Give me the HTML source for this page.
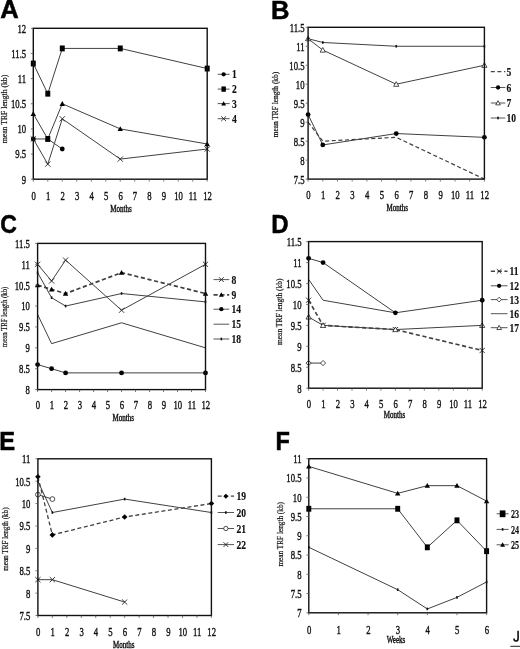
<!DOCTYPE html>
<html><head><meta charset="utf-8"><title>Figure</title>
<style>
html,body{margin:0;padding:0;background:#fff;}
body{width:520px;height:649px;overflow:hidden;font-family:"Liberation Serif", serif;}
svg{display:block;filter:blur(0.35px);}
</style></head><body>
<svg width="520" height="649" viewBox="0 0 520 649">
<text transform="translate(0.30,17.60)" font-family='"Liberation Sans", sans-serif' font-size="25.60" font-weight="bold" text-anchor="start" fill="#000" stroke="#000" stroke-width="0.50">A</text>
<path d="M33.30 138.96 L47.79 138.96 L62.28 149.02" fill="none" stroke="#404040" stroke-width="1.00"/>
<path d="M33.30 63.51 L47.79 93.69 L62.28 48.42 L120.25 48.42 L207.20 68.54" fill="none" stroke="#404040" stroke-width="1.00"/>
<path d="M33.30 113.81 L47.79 138.96 L62.28 103.75 L120.25 128.90 L207.20 143.99" fill="none" stroke="#404040" stroke-width="1.00"/>
<path d="M33.30 138.96 L47.79 164.11 L62.28 118.84 L120.25 159.08 L207.20 149.02" fill="none" stroke="#404040" stroke-width="1.00"/>
<circle cx="33.30" cy="138.96" r="2.40" fill="#000"/>
<rect x="45.32" y="136.02" width="4.94" height="5.88" fill="#000"/>
<circle cx="62.28" cy="149.02" r="2.40" fill="#000"/>
<rect x="30.83" y="60.57" width="4.94" height="5.88" fill="#000"/>
<rect x="45.32" y="90.75" width="4.94" height="5.88" fill="#000"/>
<rect x="59.81" y="45.48" width="4.94" height="5.88" fill="#000"/>
<rect x="117.78" y="45.48" width="4.94" height="5.88" fill="#000"/>
<rect x="204.73" y="65.60" width="4.94" height="5.88" fill="#000"/>
<path d="M33.30 111.11L36.00 115.97L30.60 115.97Z" fill="#000"/>
<path d="M47.79 136.26L50.49 141.12L45.09 141.12Z" fill="#000"/>
<path d="M62.28 101.05L64.98 105.91L59.58 105.91Z" fill="#000"/>
<path d="M120.25 126.20L122.95 131.06L117.55 131.06Z" fill="#000"/>
<path d="M207.20 141.29L209.90 146.15L204.50 146.15Z" fill="#000"/>
<path d="M30.70 136.36L35.90 141.56M30.70 141.56L35.90 136.36" stroke="#222" stroke-width="0.9"/>
<path d="M45.19 161.51L50.39 166.71M45.19 166.71L50.39 161.51" stroke="#222" stroke-width="0.9"/>
<path d="M59.68 116.24L64.88 121.44M59.68 121.44L64.88 116.24" stroke="#222" stroke-width="0.9"/>
<path d="M117.65 156.48L122.85 161.68M117.65 161.68L122.85 156.48" stroke="#222" stroke-width="0.9"/>
<path d="M204.60 146.42L209.80 151.62M204.60 151.62L209.80 146.42" stroke="#222" stroke-width="0.9"/>
<rect x="33.30" y="28.30" width="173.90" height="150.90" fill="none" stroke="#111" stroke-width="1.40"/>
<line x1="30.90" y1="179.20" x2="33.30" y2="179.20" stroke="#555" stroke-width="0.8"/>
<text transform="translate(26.20,183.60) scale(0.700,1)" font-family='"Liberation Serif", serif' font-size="12.40" font-weight="normal" text-anchor="end" fill="#111" stroke="#111" stroke-width="0.40">9</text>
<line x1="30.90" y1="154.05" x2="33.30" y2="154.05" stroke="#555" stroke-width="0.8"/>
<text transform="translate(26.20,158.45) scale(0.700,1)" font-family='"Liberation Serif", serif' font-size="12.40" font-weight="normal" text-anchor="end" fill="#111" stroke="#111" stroke-width="0.40">9.5</text>
<line x1="30.90" y1="128.90" x2="33.30" y2="128.90" stroke="#555" stroke-width="0.8"/>
<text transform="translate(26.20,133.30) scale(0.700,1)" font-family='"Liberation Serif", serif' font-size="12.40" font-weight="normal" text-anchor="end" fill="#111" stroke="#111" stroke-width="0.40">10</text>
<line x1="30.90" y1="103.75" x2="33.30" y2="103.75" stroke="#555" stroke-width="0.8"/>
<text transform="translate(26.20,108.15) scale(0.700,1)" font-family='"Liberation Serif", serif' font-size="12.40" font-weight="normal" text-anchor="end" fill="#111" stroke="#111" stroke-width="0.40">10.5</text>
<line x1="30.90" y1="78.60" x2="33.30" y2="78.60" stroke="#555" stroke-width="0.8"/>
<text transform="translate(26.20,83.00) scale(0.700,1)" font-family='"Liberation Serif", serif' font-size="12.40" font-weight="normal" text-anchor="end" fill="#111" stroke="#111" stroke-width="0.40">11</text>
<line x1="30.90" y1="53.45" x2="33.30" y2="53.45" stroke="#555" stroke-width="0.8"/>
<text transform="translate(26.20,57.85) scale(0.700,1)" font-family='"Liberation Serif", serif' font-size="12.40" font-weight="normal" text-anchor="end" fill="#111" stroke="#111" stroke-width="0.40">11.5</text>
<line x1="30.90" y1="28.30" x2="33.30" y2="28.30" stroke="#555" stroke-width="0.8"/>
<text transform="translate(26.20,32.70) scale(0.700,1)" font-family='"Liberation Serif", serif' font-size="12.40" font-weight="normal" text-anchor="end" fill="#111" stroke="#111" stroke-width="0.40">12</text>
<line x1="33.30" y1="179.20" x2="33.30" y2="181.60" stroke="#555" stroke-width="0.8"/>
<text transform="translate(33.60,199.50) scale(0.700,1)" font-family='"Liberation Serif", serif' font-size="12.40" font-weight="normal" text-anchor="middle" fill="#111" stroke="#111" stroke-width="0.40">0</text>
<line x1="47.79" y1="179.20" x2="47.79" y2="181.60" stroke="#555" stroke-width="0.8"/>
<text transform="translate(48.09,199.50) scale(0.700,1)" font-family='"Liberation Serif", serif' font-size="12.40" font-weight="normal" text-anchor="middle" fill="#111" stroke="#111" stroke-width="0.40">1</text>
<line x1="62.28" y1="179.20" x2="62.28" y2="181.60" stroke="#555" stroke-width="0.8"/>
<text transform="translate(62.58,199.50) scale(0.700,1)" font-family='"Liberation Serif", serif' font-size="12.40" font-weight="normal" text-anchor="middle" fill="#111" stroke="#111" stroke-width="0.40">2</text>
<line x1="76.77" y1="179.20" x2="76.77" y2="181.60" stroke="#555" stroke-width="0.8"/>
<text transform="translate(77.07,199.50) scale(0.700,1)" font-family='"Liberation Serif", serif' font-size="12.40" font-weight="normal" text-anchor="middle" fill="#111" stroke="#111" stroke-width="0.40">3</text>
<line x1="91.27" y1="179.20" x2="91.27" y2="181.60" stroke="#555" stroke-width="0.8"/>
<text transform="translate(91.57,199.50) scale(0.700,1)" font-family='"Liberation Serif", serif' font-size="12.40" font-weight="normal" text-anchor="middle" fill="#111" stroke="#111" stroke-width="0.40">4</text>
<line x1="105.76" y1="179.20" x2="105.76" y2="181.60" stroke="#555" stroke-width="0.8"/>
<text transform="translate(106.06,199.50) scale(0.700,1)" font-family='"Liberation Serif", serif' font-size="12.40" font-weight="normal" text-anchor="middle" fill="#111" stroke="#111" stroke-width="0.40">5</text>
<line x1="120.25" y1="179.20" x2="120.25" y2="181.60" stroke="#555" stroke-width="0.8"/>
<text transform="translate(120.55,199.50) scale(0.700,1)" font-family='"Liberation Serif", serif' font-size="12.40" font-weight="normal" text-anchor="middle" fill="#111" stroke="#111" stroke-width="0.40">6</text>
<line x1="134.74" y1="179.20" x2="134.74" y2="181.60" stroke="#555" stroke-width="0.8"/>
<text transform="translate(135.04,199.50) scale(0.700,1)" font-family='"Liberation Serif", serif' font-size="12.40" font-weight="normal" text-anchor="middle" fill="#111" stroke="#111" stroke-width="0.40">7</text>
<line x1="149.23" y1="179.20" x2="149.23" y2="181.60" stroke="#555" stroke-width="0.8"/>
<text transform="translate(149.53,199.50) scale(0.700,1)" font-family='"Liberation Serif", serif' font-size="12.40" font-weight="normal" text-anchor="middle" fill="#111" stroke="#111" stroke-width="0.40">8</text>
<line x1="163.72" y1="179.20" x2="163.72" y2="181.60" stroke="#555" stroke-width="0.8"/>
<text transform="translate(164.02,199.50) scale(0.700,1)" font-family='"Liberation Serif", serif' font-size="12.40" font-weight="normal" text-anchor="middle" fill="#111" stroke="#111" stroke-width="0.40">9</text>
<line x1="178.22" y1="179.20" x2="178.22" y2="181.60" stroke="#555" stroke-width="0.8"/>
<text transform="translate(178.52,199.50) scale(0.700,1)" font-family='"Liberation Serif", serif' font-size="12.40" font-weight="normal" text-anchor="middle" fill="#111" stroke="#111" stroke-width="0.40">10</text>
<line x1="192.71" y1="179.20" x2="192.71" y2="181.60" stroke="#555" stroke-width="0.8"/>
<text transform="translate(193.01,199.50) scale(0.700,1)" font-family='"Liberation Serif", serif' font-size="12.40" font-weight="normal" text-anchor="middle" fill="#111" stroke="#111" stroke-width="0.40">11</text>
<line x1="207.20" y1="179.20" x2="207.20" y2="181.60" stroke="#555" stroke-width="0.8"/>
<text transform="translate(207.50,199.50) scale(0.700,1)" font-family='"Liberation Serif", serif' font-size="12.40" font-weight="normal" text-anchor="middle" fill="#111" stroke="#111" stroke-width="0.40">12</text>
<text transform="translate(121.00,211.50) scale(0.740,1)" font-family='"Liberation Serif", serif' font-size="9.50" font-weight="normal" text-anchor="middle" fill="#111" stroke="#111" stroke-width="0.40">Months</text>
<text transform="translate(7.30,109.00) rotate(-90)" font-family='"Liberation Serif", serif' font-size="8.60" text-anchor="middle" fill="#111" stroke="#111" stroke-width="0.2" textLength="68.5" lengthAdjust="spacingAndGlyphs">mean TRF length (kb)</text>
<line x1="217.70" y1="74.30" x2="229.60" y2="74.30" stroke="#444" stroke-width="0.90"/>
<circle cx="223.65" cy="74.30" r="2.16" fill="#000"/>
<text transform="translate(231.90,78.40) scale(0.800,1)" font-family='"Liberation Serif", serif' font-size="12.00" font-weight="bold" text-anchor="start" fill="#111" stroke="#111" stroke-width="0.15">1</text>
<line x1="217.70" y1="89.10" x2="229.60" y2="89.10" stroke="#444" stroke-width="0.90"/>
<rect x="221.43" y="86.46" width="4.45" height="5.29" fill="#000"/>
<text transform="translate(231.90,93.20) scale(0.800,1)" font-family='"Liberation Serif", serif' font-size="12.00" font-weight="bold" text-anchor="start" fill="#111" stroke="#111" stroke-width="0.15">2</text>
<line x1="217.70" y1="103.60" x2="229.60" y2="103.60" stroke="#444" stroke-width="0.90"/>
<path d="M223.65 101.17L226.08 105.54L221.22 105.54Z" fill="#000"/>
<text transform="translate(231.90,107.70) scale(0.800,1)" font-family='"Liberation Serif", serif' font-size="12.00" font-weight="bold" text-anchor="start" fill="#111" stroke="#111" stroke-width="0.15">3</text>
<line x1="217.70" y1="118.70" x2="229.60" y2="118.70" stroke="#444" stroke-width="0.90"/>
<path d="M221.31 116.36L225.99 121.04M221.31 121.04L225.99 116.36" stroke="#222" stroke-width="0.9"/>
<text transform="translate(231.90,122.80) scale(0.800,1)" font-family='"Liberation Serif", serif' font-size="12.00" font-weight="bold" text-anchor="start" fill="#111" stroke="#111" stroke-width="0.15">4</text>
<text transform="translate(271.10,18.50)" font-family='"Liberation Sans", sans-serif' font-size="25.60" font-weight="bold" text-anchor="start" fill="#000" stroke="#000" stroke-width="0.50">B</text>
<path d="M308.10 122.17 L322.79 141.15 L396.25 137.36 L484.40 179.10" fill="none" stroke="#404040" stroke-width="1.20" stroke-dasharray="4,2.6"/>
<path d="M308.10 114.59 L322.79 144.94 L396.25 133.56 L484.40 137.36" fill="none" stroke="#404040" stroke-width="1.00"/>
<path d="M308.10 38.69 L322.79 50.07 L396.25 84.23 L484.40 65.25" fill="none" stroke="#404040" stroke-width="1.00"/>
<path d="M308.10 38.69 L322.79 42.48 L396.25 46.28 L484.40 46.28" fill="none" stroke="#404040" stroke-width="1.00"/>
<circle cx="308.10" cy="114.59" r="2.40" fill="#000"/>
<circle cx="322.79" cy="144.94" r="2.40" fill="#000"/>
<circle cx="396.25" cy="133.56" r="2.40" fill="#000"/>
<circle cx="484.40" cy="137.36" r="2.40" fill="#000"/>
<path d="M308.10 36.09L310.70 40.77L305.50 40.77Z" fill="#fff" stroke="#222" stroke-width="0.8"/>
<path d="M322.79 47.47L325.39 52.15L320.19 52.15Z" fill="#fff" stroke="#222" stroke-width="0.8"/>
<path d="M396.25 81.63L398.85 86.31L393.65 86.31Z" fill="#fff" stroke="#222" stroke-width="0.8"/>
<path d="M484.40 62.65L487.00 67.33L481.80 67.33Z" fill="#fff" stroke="#222" stroke-width="0.8"/>
<rect x="307.30" y="37.39" width="1.6" height="2.6" fill="#111"/>
<rect x="321.99" y="41.18" width="1.6" height="2.6" fill="#111"/>
<rect x="395.45" y="44.98" width="1.6" height="2.6" fill="#111"/>
<rect x="483.60" y="44.98" width="1.6" height="2.6" fill="#111"/>
<rect x="308.10" y="27.30" width="176.30" height="151.80" fill="none" stroke="#111" stroke-width="1.40"/>
<line x1="305.70" y1="179.10" x2="308.10" y2="179.10" stroke="#555" stroke-width="0.8"/>
<text transform="translate(304.50,183.50) scale(0.700,1)" font-family='"Liberation Serif", serif' font-size="12.40" font-weight="normal" text-anchor="end" fill="#111" stroke="#111" stroke-width="0.40">7.5</text>
<line x1="305.70" y1="160.12" x2="308.10" y2="160.12" stroke="#555" stroke-width="0.8"/>
<text transform="translate(304.50,164.53) scale(0.700,1)" font-family='"Liberation Serif", serif' font-size="12.40" font-weight="normal" text-anchor="end" fill="#111" stroke="#111" stroke-width="0.40">8</text>
<line x1="305.70" y1="141.15" x2="308.10" y2="141.15" stroke="#555" stroke-width="0.8"/>
<text transform="translate(304.50,145.55) scale(0.700,1)" font-family='"Liberation Serif", serif' font-size="12.40" font-weight="normal" text-anchor="end" fill="#111" stroke="#111" stroke-width="0.40">8.5</text>
<line x1="305.70" y1="122.17" x2="308.10" y2="122.17" stroke="#555" stroke-width="0.8"/>
<text transform="translate(304.50,126.58) scale(0.700,1)" font-family='"Liberation Serif", serif' font-size="12.40" font-weight="normal" text-anchor="end" fill="#111" stroke="#111" stroke-width="0.40">9</text>
<line x1="305.70" y1="103.20" x2="308.10" y2="103.20" stroke="#555" stroke-width="0.8"/>
<text transform="translate(304.50,107.60) scale(0.700,1)" font-family='"Liberation Serif", serif' font-size="12.40" font-weight="normal" text-anchor="end" fill="#111" stroke="#111" stroke-width="0.40">9.5</text>
<line x1="305.70" y1="84.23" x2="308.10" y2="84.23" stroke="#555" stroke-width="0.8"/>
<text transform="translate(304.50,88.63) scale(0.700,1)" font-family='"Liberation Serif", serif' font-size="12.40" font-weight="normal" text-anchor="end" fill="#111" stroke="#111" stroke-width="0.40">10</text>
<line x1="305.70" y1="65.25" x2="308.10" y2="65.25" stroke="#555" stroke-width="0.8"/>
<text transform="translate(304.50,69.65) scale(0.700,1)" font-family='"Liberation Serif", serif' font-size="12.40" font-weight="normal" text-anchor="end" fill="#111" stroke="#111" stroke-width="0.40">10.5</text>
<line x1="305.70" y1="46.28" x2="308.10" y2="46.28" stroke="#555" stroke-width="0.8"/>
<text transform="translate(304.50,50.68) scale(0.700,1)" font-family='"Liberation Serif", serif' font-size="12.40" font-weight="normal" text-anchor="end" fill="#111" stroke="#111" stroke-width="0.40">11</text>
<line x1="305.70" y1="27.30" x2="308.10" y2="27.30" stroke="#555" stroke-width="0.8"/>
<text transform="translate(304.50,31.70) scale(0.700,1)" font-family='"Liberation Serif", serif' font-size="12.40" font-weight="normal" text-anchor="end" fill="#111" stroke="#111" stroke-width="0.40">11.5</text>
<line x1="308.10" y1="179.10" x2="308.10" y2="181.50" stroke="#555" stroke-width="0.8"/>
<text transform="translate(308.40,199.00) scale(0.700,1)" font-family='"Liberation Serif", serif' font-size="12.40" font-weight="normal" text-anchor="middle" fill="#111" stroke="#111" stroke-width="0.40">0</text>
<line x1="322.79" y1="179.10" x2="322.79" y2="181.50" stroke="#555" stroke-width="0.8"/>
<text transform="translate(323.09,199.00) scale(0.700,1)" font-family='"Liberation Serif", serif' font-size="12.40" font-weight="normal" text-anchor="middle" fill="#111" stroke="#111" stroke-width="0.40">1</text>
<line x1="337.48" y1="179.10" x2="337.48" y2="181.50" stroke="#555" stroke-width="0.8"/>
<text transform="translate(337.78,199.00) scale(0.700,1)" font-family='"Liberation Serif", serif' font-size="12.40" font-weight="normal" text-anchor="middle" fill="#111" stroke="#111" stroke-width="0.40">2</text>
<line x1="352.18" y1="179.10" x2="352.18" y2="181.50" stroke="#555" stroke-width="0.8"/>
<text transform="translate(352.48,199.00) scale(0.700,1)" font-family='"Liberation Serif", serif' font-size="12.40" font-weight="normal" text-anchor="middle" fill="#111" stroke="#111" stroke-width="0.40">3</text>
<line x1="366.87" y1="179.10" x2="366.87" y2="181.50" stroke="#555" stroke-width="0.8"/>
<text transform="translate(367.17,199.00) scale(0.700,1)" font-family='"Liberation Serif", serif' font-size="12.40" font-weight="normal" text-anchor="middle" fill="#111" stroke="#111" stroke-width="0.40">4</text>
<line x1="381.56" y1="179.10" x2="381.56" y2="181.50" stroke="#555" stroke-width="0.8"/>
<text transform="translate(381.86,199.00) scale(0.700,1)" font-family='"Liberation Serif", serif' font-size="12.40" font-weight="normal" text-anchor="middle" fill="#111" stroke="#111" stroke-width="0.40">5</text>
<line x1="396.25" y1="179.10" x2="396.25" y2="181.50" stroke="#555" stroke-width="0.8"/>
<text transform="translate(396.55,199.00) scale(0.700,1)" font-family='"Liberation Serif", serif' font-size="12.40" font-weight="normal" text-anchor="middle" fill="#111" stroke="#111" stroke-width="0.40">6</text>
<line x1="410.94" y1="179.10" x2="410.94" y2="181.50" stroke="#555" stroke-width="0.8"/>
<text transform="translate(411.24,199.00) scale(0.700,1)" font-family='"Liberation Serif", serif' font-size="12.40" font-weight="normal" text-anchor="middle" fill="#111" stroke="#111" stroke-width="0.40">7</text>
<line x1="425.63" y1="179.10" x2="425.63" y2="181.50" stroke="#555" stroke-width="0.8"/>
<text transform="translate(425.93,199.00) scale(0.700,1)" font-family='"Liberation Serif", serif' font-size="12.40" font-weight="normal" text-anchor="middle" fill="#111" stroke="#111" stroke-width="0.40">8</text>
<line x1="440.32" y1="179.10" x2="440.32" y2="181.50" stroke="#555" stroke-width="0.8"/>
<text transform="translate(440.62,199.00) scale(0.700,1)" font-family='"Liberation Serif", serif' font-size="12.40" font-weight="normal" text-anchor="middle" fill="#111" stroke="#111" stroke-width="0.40">9</text>
<line x1="455.02" y1="179.10" x2="455.02" y2="181.50" stroke="#555" stroke-width="0.8"/>
<text transform="translate(455.32,199.00) scale(0.700,1)" font-family='"Liberation Serif", serif' font-size="12.40" font-weight="normal" text-anchor="middle" fill="#111" stroke="#111" stroke-width="0.40">10</text>
<line x1="469.71" y1="179.10" x2="469.71" y2="181.50" stroke="#555" stroke-width="0.8"/>
<text transform="translate(470.01,199.00) scale(0.700,1)" font-family='"Liberation Serif", serif' font-size="12.40" font-weight="normal" text-anchor="middle" fill="#111" stroke="#111" stroke-width="0.40">11</text>
<line x1="484.40" y1="179.10" x2="484.40" y2="181.50" stroke="#555" stroke-width="0.8"/>
<text transform="translate(484.70,199.00) scale(0.700,1)" font-family='"Liberation Serif", serif' font-size="12.40" font-weight="normal" text-anchor="middle" fill="#111" stroke="#111" stroke-width="0.40">12</text>
<text transform="translate(397.30,211.20) scale(0.740,1)" font-family='"Liberation Serif", serif' font-size="9.50" font-weight="normal" text-anchor="middle" fill="#111" stroke="#111" stroke-width="0.40">Months</text>
<text transform="translate(278.00,104.60) rotate(-90)" font-family='"Liberation Serif", serif' font-size="8.60" text-anchor="middle" fill="#111" stroke="#111" stroke-width="0.2" textLength="65.5" lengthAdjust="spacingAndGlyphs">mean TRF length (kb)</text>
<line x1="490.80" y1="71.70" x2="505.30" y2="71.70" stroke="#444" stroke-width="1.20" stroke-dasharray="4,2.6"/>
<text transform="translate(506.40,75.80) scale(0.800,1)" font-family='"Liberation Serif", serif' font-size="12.00" font-weight="bold" text-anchor="start" fill="#111" stroke="#111" stroke-width="0.15">5</text>
<line x1="490.80" y1="87.50" x2="505.30" y2="87.50" stroke="#444" stroke-width="0.90"/>
<circle cx="498.05" cy="87.50" r="2.16" fill="#000"/>
<text transform="translate(506.40,91.60) scale(0.800,1)" font-family='"Liberation Serif", serif' font-size="12.00" font-weight="bold" text-anchor="start" fill="#111" stroke="#111" stroke-width="0.15">6</text>
<line x1="490.80" y1="103.00" x2="505.30" y2="103.00" stroke="#444" stroke-width="0.90"/>
<path d="M498.05 100.66L500.39 104.87L495.71 104.87Z" fill="#fff" stroke="#222" stroke-width="0.8"/>
<text transform="translate(506.40,107.10) scale(0.800,1)" font-family='"Liberation Serif", serif' font-size="12.00" font-weight="bold" text-anchor="start" fill="#111" stroke="#111" stroke-width="0.15">7</text>
<line x1="490.80" y1="118.00" x2="505.30" y2="118.00" stroke="#444" stroke-width="0.90"/>
<rect x="497.25" y="116.70" width="1.6" height="2.6" fill="#111"/>
<text transform="translate(506.40,122.10) scale(0.800,1)" font-family='"Liberation Serif", serif' font-size="12.00" font-weight="bold" text-anchor="start" fill="#111" stroke="#111" stroke-width="0.15">10</text>
<text transform="translate(0.20,232.90) scale(0.900,1)" font-family='"Liberation Sans", sans-serif' font-size="25.60" font-weight="bold" text-anchor="start" fill="#000" stroke="#000" stroke-width="0.50">C</text>
<path d="M37.60 264.29 L51.59 280.99 L65.58 260.11 L121.55 310.23 L205.50 264.29" fill="none" stroke="#404040" stroke-width="1.00"/>
<path d="M37.60 285.17 L51.59 289.35 L65.58 293.53 L121.55 272.64 L205.50 293.53" fill="none" stroke="#404040" stroke-width="1.70" stroke-dasharray="4.2,2.6"/>
<path d="M37.60 364.54 L51.59 368.71 L65.58 372.89 L121.55 372.89 L205.50 372.89" fill="none" stroke="#404040" stroke-width="1.00"/>
<path d="M37.60 314.41 L51.59 343.65 L121.55 322.77 L205.50 347.83" fill="none" stroke="#404040" stroke-width="1.00"/>
<path d="M37.60 272.64 L51.59 297.70 L65.58 306.06 L121.55 293.53 L205.50 301.88" fill="none" stroke="#404040" stroke-width="1.00"/>
<path d="M35.00 261.69L40.20 266.89M35.00 266.89L40.20 261.69" stroke="#222" stroke-width="0.9"/>
<path d="M48.99 278.39L54.19 283.59M48.99 283.59L54.19 278.39" stroke="#222" stroke-width="0.9"/>
<path d="M62.98 257.51L68.18 262.71M62.98 262.71L68.18 257.51" stroke="#222" stroke-width="0.9"/>
<path d="M118.95 307.63L124.15 312.83M118.95 312.83L124.15 307.63" stroke="#222" stroke-width="0.9"/>
<path d="M202.90 261.69L208.10 266.89M202.90 266.89L208.10 261.69" stroke="#222" stroke-width="0.9"/>
<path d="M37.60 282.47L40.30 287.33L34.90 287.33Z" fill="#000"/>
<path d="M51.59 286.65L54.29 291.51L48.89 291.51Z" fill="#000"/>
<path d="M65.58 290.83L68.28 295.69L62.88 295.69Z" fill="#000"/>
<path d="M121.55 269.94L124.25 274.80L118.85 274.80Z" fill="#000"/>
<path d="M205.50 290.83L208.20 295.69L202.80 295.69Z" fill="#000"/>
<circle cx="37.60" cy="364.54" r="2.40" fill="#000"/>
<circle cx="51.59" cy="368.71" r="2.40" fill="#000"/>
<circle cx="65.58" cy="372.89" r="2.40" fill="#000"/>
<circle cx="121.55" cy="372.89" r="2.40" fill="#000"/>
<circle cx="205.50" cy="372.89" r="2.40" fill="#000"/>
<rect x="36.80" y="271.34" width="1.6" height="2.6" fill="#111"/>
<rect x="50.79" y="296.40" width="1.6" height="2.6" fill="#111"/>
<rect x="64.78" y="304.76" width="1.6" height="2.6" fill="#111"/>
<rect x="120.75" y="292.23" width="1.6" height="2.6" fill="#111"/>
<rect x="204.70" y="300.58" width="1.6" height="2.6" fill="#111"/>
<rect x="37.60" y="243.40" width="167.90" height="146.20" fill="none" stroke="#111" stroke-width="1.40"/>
<line x1="35.20" y1="389.60" x2="37.60" y2="389.60" stroke="#555" stroke-width="0.8"/>
<text transform="translate(29.90,394.00) scale(0.700,1)" font-family='"Liberation Serif", serif' font-size="12.40" font-weight="normal" text-anchor="end" fill="#111" stroke="#111" stroke-width="0.40">8</text>
<line x1="35.20" y1="368.71" x2="37.60" y2="368.71" stroke="#555" stroke-width="0.8"/>
<text transform="translate(29.90,373.11) scale(0.700,1)" font-family='"Liberation Serif", serif' font-size="12.40" font-weight="normal" text-anchor="end" fill="#111" stroke="#111" stroke-width="0.40">8.5</text>
<line x1="35.20" y1="347.83" x2="37.60" y2="347.83" stroke="#555" stroke-width="0.8"/>
<text transform="translate(29.90,352.23) scale(0.700,1)" font-family='"Liberation Serif", serif' font-size="12.40" font-weight="normal" text-anchor="end" fill="#111" stroke="#111" stroke-width="0.40">9</text>
<line x1="35.20" y1="326.94" x2="37.60" y2="326.94" stroke="#555" stroke-width="0.8"/>
<text transform="translate(29.90,331.34) scale(0.700,1)" font-family='"Liberation Serif", serif' font-size="12.40" font-weight="normal" text-anchor="end" fill="#111" stroke="#111" stroke-width="0.40">9.5</text>
<line x1="35.20" y1="306.06" x2="37.60" y2="306.06" stroke="#555" stroke-width="0.8"/>
<text transform="translate(29.90,310.46) scale(0.700,1)" font-family='"Liberation Serif", serif' font-size="12.40" font-weight="normal" text-anchor="end" fill="#111" stroke="#111" stroke-width="0.40">10</text>
<line x1="35.20" y1="285.17" x2="37.60" y2="285.17" stroke="#555" stroke-width="0.8"/>
<text transform="translate(29.90,289.57) scale(0.700,1)" font-family='"Liberation Serif", serif' font-size="12.40" font-weight="normal" text-anchor="end" fill="#111" stroke="#111" stroke-width="0.40">10.5</text>
<line x1="35.20" y1="264.29" x2="37.60" y2="264.29" stroke="#555" stroke-width="0.8"/>
<text transform="translate(29.90,268.69) scale(0.700,1)" font-family='"Liberation Serif", serif' font-size="12.40" font-weight="normal" text-anchor="end" fill="#111" stroke="#111" stroke-width="0.40">11</text>
<line x1="35.20" y1="243.40" x2="37.60" y2="243.40" stroke="#555" stroke-width="0.8"/>
<text transform="translate(29.90,247.80) scale(0.700,1)" font-family='"Liberation Serif", serif' font-size="12.40" font-weight="normal" text-anchor="end" fill="#111" stroke="#111" stroke-width="0.40">11.5</text>
<line x1="37.60" y1="389.60" x2="37.60" y2="392.00" stroke="#555" stroke-width="0.8"/>
<text transform="translate(37.90,408.90) scale(0.700,1)" font-family='"Liberation Serif", serif' font-size="12.40" font-weight="normal" text-anchor="middle" fill="#111" stroke="#111" stroke-width="0.40">0</text>
<line x1="51.59" y1="389.60" x2="51.59" y2="392.00" stroke="#555" stroke-width="0.8"/>
<text transform="translate(51.89,408.90) scale(0.700,1)" font-family='"Liberation Serif", serif' font-size="12.40" font-weight="normal" text-anchor="middle" fill="#111" stroke="#111" stroke-width="0.40">1</text>
<line x1="65.58" y1="389.60" x2="65.58" y2="392.00" stroke="#555" stroke-width="0.8"/>
<text transform="translate(65.88,408.90) scale(0.700,1)" font-family='"Liberation Serif", serif' font-size="12.40" font-weight="normal" text-anchor="middle" fill="#111" stroke="#111" stroke-width="0.40">2</text>
<line x1="79.58" y1="389.60" x2="79.58" y2="392.00" stroke="#555" stroke-width="0.8"/>
<text transform="translate(79.88,408.90) scale(0.700,1)" font-family='"Liberation Serif", serif' font-size="12.40" font-weight="normal" text-anchor="middle" fill="#111" stroke="#111" stroke-width="0.40">3</text>
<line x1="93.57" y1="389.60" x2="93.57" y2="392.00" stroke="#555" stroke-width="0.8"/>
<text transform="translate(93.87,408.90) scale(0.700,1)" font-family='"Liberation Serif", serif' font-size="12.40" font-weight="normal" text-anchor="middle" fill="#111" stroke="#111" stroke-width="0.40">4</text>
<line x1="107.56" y1="389.60" x2="107.56" y2="392.00" stroke="#555" stroke-width="0.8"/>
<text transform="translate(107.86,408.90) scale(0.700,1)" font-family='"Liberation Serif", serif' font-size="12.40" font-weight="normal" text-anchor="middle" fill="#111" stroke="#111" stroke-width="0.40">5</text>
<line x1="121.55" y1="389.60" x2="121.55" y2="392.00" stroke="#555" stroke-width="0.8"/>
<text transform="translate(121.85,408.90) scale(0.700,1)" font-family='"Liberation Serif", serif' font-size="12.40" font-weight="normal" text-anchor="middle" fill="#111" stroke="#111" stroke-width="0.40">6</text>
<line x1="135.54" y1="389.60" x2="135.54" y2="392.00" stroke="#555" stroke-width="0.8"/>
<text transform="translate(135.84,408.90) scale(0.700,1)" font-family='"Liberation Serif", serif' font-size="12.40" font-weight="normal" text-anchor="middle" fill="#111" stroke="#111" stroke-width="0.40">7</text>
<line x1="149.53" y1="389.60" x2="149.53" y2="392.00" stroke="#555" stroke-width="0.8"/>
<text transform="translate(149.83,408.90) scale(0.700,1)" font-family='"Liberation Serif", serif' font-size="12.40" font-weight="normal" text-anchor="middle" fill="#111" stroke="#111" stroke-width="0.40">8</text>
<line x1="163.53" y1="389.60" x2="163.53" y2="392.00" stroke="#555" stroke-width="0.8"/>
<text transform="translate(163.83,408.90) scale(0.700,1)" font-family='"Liberation Serif", serif' font-size="12.40" font-weight="normal" text-anchor="middle" fill="#111" stroke="#111" stroke-width="0.40">9</text>
<line x1="177.52" y1="389.60" x2="177.52" y2="392.00" stroke="#555" stroke-width="0.8"/>
<text transform="translate(177.82,408.90) scale(0.700,1)" font-family='"Liberation Serif", serif' font-size="12.40" font-weight="normal" text-anchor="middle" fill="#111" stroke="#111" stroke-width="0.40">10</text>
<line x1="191.51" y1="389.60" x2="191.51" y2="392.00" stroke="#555" stroke-width="0.8"/>
<text transform="translate(191.81,408.90) scale(0.700,1)" font-family='"Liberation Serif", serif' font-size="12.40" font-weight="normal" text-anchor="middle" fill="#111" stroke="#111" stroke-width="0.40">11</text>
<line x1="205.50" y1="389.60" x2="205.50" y2="392.00" stroke="#555" stroke-width="0.8"/>
<text transform="translate(205.80,408.90) scale(0.700,1)" font-family='"Liberation Serif", serif' font-size="12.40" font-weight="normal" text-anchor="middle" fill="#111" stroke="#111" stroke-width="0.40">12</text>
<text transform="translate(123.30,420.60) scale(0.740,1)" font-family='"Liberation Serif", serif' font-size="9.50" font-weight="normal" text-anchor="middle" fill="#111" stroke="#111" stroke-width="0.40">Months</text>
<text transform="translate(7.30,316.90) rotate(-90)" font-family='"Liberation Serif", serif' font-size="8.60" text-anchor="middle" fill="#111" stroke="#111" stroke-width="0.2" textLength="60.5" lengthAdjust="spacingAndGlyphs">mean TRF length (kb)</text>
<line x1="213.50" y1="279.60" x2="229.20" y2="279.60" stroke="#444" stroke-width="0.90"/>
<path d="M219.01 277.26L223.69 281.94M219.01 281.94L223.69 277.26" stroke="#222" stroke-width="0.9"/>
<text transform="translate(231.50,283.70) scale(0.800,1)" font-family='"Liberation Serif", serif' font-size="12.00" font-weight="bold" text-anchor="start" fill="#111" stroke="#111" stroke-width="0.15">8</text>
<line x1="213.50" y1="294.80" x2="229.20" y2="294.80" stroke="#444" stroke-width="1.70" stroke-dasharray="4.2,2.6"/>
<path d="M221.35 292.37L223.78 296.74L218.92 296.74Z" fill="#000"/>
<text transform="translate(231.50,298.90) scale(0.800,1)" font-family='"Liberation Serif", serif' font-size="12.00" font-weight="bold" text-anchor="start" fill="#111" stroke="#111" stroke-width="0.15">9</text>
<line x1="213.50" y1="309.20" x2="229.20" y2="309.20" stroke="#444" stroke-width="0.90"/>
<circle cx="221.35" cy="309.20" r="2.16" fill="#000"/>
<text transform="translate(231.50,313.30) scale(0.800,1)" font-family='"Liberation Serif", serif' font-size="12.00" font-weight="bold" text-anchor="start" fill="#111" stroke="#111" stroke-width="0.15">14</text>
<line x1="213.50" y1="324.20" x2="229.20" y2="324.20" stroke="#444" stroke-width="0.90"/>
<text transform="translate(231.50,328.30) scale(0.800,1)" font-family='"Liberation Serif", serif' font-size="12.00" font-weight="bold" text-anchor="start" fill="#111" stroke="#111" stroke-width="0.15">15</text>
<line x1="213.50" y1="339.00" x2="229.20" y2="339.00" stroke="#444" stroke-width="0.90"/>
<rect x="220.55" y="337.70" width="1.6" height="2.6" fill="#111"/>
<text transform="translate(231.50,343.10) scale(0.800,1)" font-family='"Liberation Serif", serif' font-size="12.00" font-weight="bold" text-anchor="start" fill="#111" stroke="#111" stroke-width="0.15">18</text>
<text transform="translate(271.30,233.00) scale(0.940,1)" font-family='"Liberation Sans", sans-serif' font-size="25.60" font-weight="bold" text-anchor="start" fill="#000" stroke="#000" stroke-width="0.50">D</text>
<path d="M308.60 300.24 L323.07 325.37 L395.40 329.56 L482.20 350.50" fill="none" stroke="#404040" stroke-width="1.60" stroke-dasharray="4.2,2.6"/>
<path d="M308.60 258.35 L323.07 262.54 L395.40 312.81 L482.20 300.24" fill="none" stroke="#404040" stroke-width="1.00"/>
<path d="M308.60 363.07 L323.07 363.07" fill="none" stroke="#404040" stroke-width="1.00"/>
<path d="M308.60 279.30 L323.07 300.24 L395.40 312.81" fill="none" stroke="#404040" stroke-width="1.00"/>
<path d="M308.60 316.99 L323.07 325.37 L395.40 329.56 L482.20 325.37" fill="none" stroke="#404040" stroke-width="1.00"/>
<path d="M306.00 297.64L311.20 302.84M306.00 302.84L311.20 297.64" stroke="#222" stroke-width="0.9"/>
<path d="M320.47 322.77L325.67 327.97M320.47 327.97L325.67 322.77" stroke="#222" stroke-width="0.9"/>
<path d="M392.80 326.96L398.00 332.16M392.80 332.16L398.00 326.96" stroke="#222" stroke-width="0.9"/>
<path d="M479.60 347.90L484.80 353.10M479.60 353.10L484.80 347.90" stroke="#222" stroke-width="0.9"/>
<circle cx="308.60" cy="258.35" r="2.40" fill="#000"/>
<circle cx="323.07" cy="262.54" r="2.40" fill="#000"/>
<circle cx="395.40" cy="312.81" r="2.40" fill="#000"/>
<circle cx="482.20" cy="300.24" r="2.40" fill="#000"/>
<path d="M308.60 360.47L311.20 363.07L308.60 365.67L306.00 363.07Z" fill="#fff" stroke="#222" stroke-width="0.8"/>
<path d="M323.07 360.47L325.67 363.07L323.07 365.67L320.47 363.07Z" fill="#fff" stroke="#222" stroke-width="0.8"/>
<path d="M308.60 314.39L311.20 319.07L306.00 319.07Z" fill="#fff" stroke="#222" stroke-width="0.8"/>
<path d="M323.07 322.77L325.67 327.45L320.47 327.45Z" fill="#fff" stroke="#222" stroke-width="0.8"/>
<path d="M395.40 326.96L398.00 331.64L392.80 331.64Z" fill="#fff" stroke="#222" stroke-width="0.8"/>
<path d="M482.20 322.77L484.80 327.45L479.60 327.45Z" fill="#fff" stroke="#222" stroke-width="0.8"/>
<rect x="308.60" y="241.60" width="173.60" height="146.60" fill="none" stroke="#111" stroke-width="1.40"/>
<line x1="306.20" y1="388.20" x2="308.60" y2="388.20" stroke="#555" stroke-width="0.8"/>
<text transform="translate(301.50,392.60) scale(0.700,1)" font-family='"Liberation Serif", serif' font-size="12.40" font-weight="normal" text-anchor="end" fill="#111" stroke="#111" stroke-width="0.40">8</text>
<line x1="306.20" y1="367.26" x2="308.60" y2="367.26" stroke="#555" stroke-width="0.8"/>
<text transform="translate(301.50,371.66) scale(0.700,1)" font-family='"Liberation Serif", serif' font-size="12.40" font-weight="normal" text-anchor="end" fill="#111" stroke="#111" stroke-width="0.40">8.5</text>
<line x1="306.20" y1="346.31" x2="308.60" y2="346.31" stroke="#555" stroke-width="0.8"/>
<text transform="translate(301.50,350.71) scale(0.700,1)" font-family='"Liberation Serif", serif' font-size="12.40" font-weight="normal" text-anchor="end" fill="#111" stroke="#111" stroke-width="0.40">9</text>
<line x1="306.20" y1="325.37" x2="308.60" y2="325.37" stroke="#555" stroke-width="0.8"/>
<text transform="translate(301.50,329.77) scale(0.700,1)" font-family='"Liberation Serif", serif' font-size="12.40" font-weight="normal" text-anchor="end" fill="#111" stroke="#111" stroke-width="0.40">9.5</text>
<line x1="306.20" y1="304.43" x2="308.60" y2="304.43" stroke="#555" stroke-width="0.8"/>
<text transform="translate(301.50,308.83) scale(0.700,1)" font-family='"Liberation Serif", serif' font-size="12.40" font-weight="normal" text-anchor="end" fill="#111" stroke="#111" stroke-width="0.40">10</text>
<line x1="306.20" y1="283.49" x2="308.60" y2="283.49" stroke="#555" stroke-width="0.8"/>
<text transform="translate(301.50,287.89) scale(0.700,1)" font-family='"Liberation Serif", serif' font-size="12.40" font-weight="normal" text-anchor="end" fill="#111" stroke="#111" stroke-width="0.40">10.5</text>
<line x1="306.20" y1="262.54" x2="308.60" y2="262.54" stroke="#555" stroke-width="0.8"/>
<text transform="translate(301.50,266.94) scale(0.700,1)" font-family='"Liberation Serif", serif' font-size="12.40" font-weight="normal" text-anchor="end" fill="#111" stroke="#111" stroke-width="0.40">11</text>
<line x1="306.20" y1="241.60" x2="308.60" y2="241.60" stroke="#555" stroke-width="0.8"/>
<text transform="translate(301.50,246.00) scale(0.700,1)" font-family='"Liberation Serif", serif' font-size="12.40" font-weight="normal" text-anchor="end" fill="#111" stroke="#111" stroke-width="0.40">11.5</text>
<line x1="308.60" y1="388.20" x2="308.60" y2="390.60" stroke="#555" stroke-width="0.8"/>
<text transform="translate(308.90,407.60) scale(0.700,1)" font-family='"Liberation Serif", serif' font-size="12.40" font-weight="normal" text-anchor="middle" fill="#111" stroke="#111" stroke-width="0.40">0</text>
<line x1="323.07" y1="388.20" x2="323.07" y2="390.60" stroke="#555" stroke-width="0.8"/>
<text transform="translate(323.37,407.60) scale(0.700,1)" font-family='"Liberation Serif", serif' font-size="12.40" font-weight="normal" text-anchor="middle" fill="#111" stroke="#111" stroke-width="0.40">1</text>
<line x1="337.53" y1="388.20" x2="337.53" y2="390.60" stroke="#555" stroke-width="0.8"/>
<text transform="translate(337.83,407.60) scale(0.700,1)" font-family='"Liberation Serif", serif' font-size="12.40" font-weight="normal" text-anchor="middle" fill="#111" stroke="#111" stroke-width="0.40">2</text>
<line x1="352.00" y1="388.20" x2="352.00" y2="390.60" stroke="#555" stroke-width="0.8"/>
<text transform="translate(352.30,407.60) scale(0.700,1)" font-family='"Liberation Serif", serif' font-size="12.40" font-weight="normal" text-anchor="middle" fill="#111" stroke="#111" stroke-width="0.40">3</text>
<line x1="366.47" y1="388.20" x2="366.47" y2="390.60" stroke="#555" stroke-width="0.8"/>
<text transform="translate(366.77,407.60) scale(0.700,1)" font-family='"Liberation Serif", serif' font-size="12.40" font-weight="normal" text-anchor="middle" fill="#111" stroke="#111" stroke-width="0.40">4</text>
<line x1="380.93" y1="388.20" x2="380.93" y2="390.60" stroke="#555" stroke-width="0.8"/>
<text transform="translate(381.23,407.60) scale(0.700,1)" font-family='"Liberation Serif", serif' font-size="12.40" font-weight="normal" text-anchor="middle" fill="#111" stroke="#111" stroke-width="0.40">5</text>
<line x1="395.40" y1="388.20" x2="395.40" y2="390.60" stroke="#555" stroke-width="0.8"/>
<text transform="translate(395.70,407.60) scale(0.700,1)" font-family='"Liberation Serif", serif' font-size="12.40" font-weight="normal" text-anchor="middle" fill="#111" stroke="#111" stroke-width="0.40">6</text>
<line x1="409.87" y1="388.20" x2="409.87" y2="390.60" stroke="#555" stroke-width="0.8"/>
<text transform="translate(410.17,407.60) scale(0.700,1)" font-family='"Liberation Serif", serif' font-size="12.40" font-weight="normal" text-anchor="middle" fill="#111" stroke="#111" stroke-width="0.40">7</text>
<line x1="424.33" y1="388.20" x2="424.33" y2="390.60" stroke="#555" stroke-width="0.8"/>
<text transform="translate(424.63,407.60) scale(0.700,1)" font-family='"Liberation Serif", serif' font-size="12.40" font-weight="normal" text-anchor="middle" fill="#111" stroke="#111" stroke-width="0.40">8</text>
<line x1="438.80" y1="388.20" x2="438.80" y2="390.60" stroke="#555" stroke-width="0.8"/>
<text transform="translate(439.10,407.60) scale(0.700,1)" font-family='"Liberation Serif", serif' font-size="12.40" font-weight="normal" text-anchor="middle" fill="#111" stroke="#111" stroke-width="0.40">9</text>
<line x1="453.27" y1="388.20" x2="453.27" y2="390.60" stroke="#555" stroke-width="0.8"/>
<text transform="translate(453.57,407.60) scale(0.700,1)" font-family='"Liberation Serif", serif' font-size="12.40" font-weight="normal" text-anchor="middle" fill="#111" stroke="#111" stroke-width="0.40">10</text>
<line x1="467.73" y1="388.20" x2="467.73" y2="390.60" stroke="#555" stroke-width="0.8"/>
<text transform="translate(468.03,407.60) scale(0.700,1)" font-family='"Liberation Serif", serif' font-size="12.40" font-weight="normal" text-anchor="middle" fill="#111" stroke="#111" stroke-width="0.40">11</text>
<line x1="482.20" y1="388.20" x2="482.20" y2="390.60" stroke="#555" stroke-width="0.8"/>
<text transform="translate(482.50,407.60) scale(0.700,1)" font-family='"Liberation Serif", serif' font-size="12.40" font-weight="normal" text-anchor="middle" fill="#111" stroke="#111" stroke-width="0.40">12</text>
<text transform="translate(394.40,418.00) scale(0.740,1)" font-family='"Liberation Serif", serif' font-size="9.50" font-weight="normal" text-anchor="middle" fill="#111" stroke="#111" stroke-width="0.40">Months</text>
<text transform="translate(282.00,311.80) rotate(-90)" font-family='"Liberation Serif", serif' font-size="8.60" text-anchor="middle" fill="#111" stroke="#111" stroke-width="0.2" textLength="66.5" lengthAdjust="spacingAndGlyphs">mean TRF length (kb)</text>
<line x1="490.80" y1="271.30" x2="507.50" y2="271.30" stroke="#444" stroke-width="1.60" stroke-dasharray="4.2,2.6"/>
<path d="M496.81 268.96L501.49 273.64M496.81 273.64L501.49 268.96" stroke="#222" stroke-width="0.9"/>
<text transform="translate(509.40,275.40) scale(0.800,1)" font-family='"Liberation Serif", serif' font-size="12.00" font-weight="bold" text-anchor="start" fill="#111" stroke="#111" stroke-width="0.15">11</text>
<line x1="490.80" y1="285.80" x2="507.50" y2="285.80" stroke="#444" stroke-width="0.90"/>
<circle cx="499.15" cy="285.80" r="2.16" fill="#000"/>
<text transform="translate(509.40,289.90) scale(0.800,1)" font-family='"Liberation Serif", serif' font-size="12.00" font-weight="bold" text-anchor="start" fill="#111" stroke="#111" stroke-width="0.15">12</text>
<line x1="490.80" y1="299.60" x2="507.50" y2="299.60" stroke="#444" stroke-width="0.90"/>
<path d="M499.15 297.26L501.49 299.60L499.15 301.94L496.81 299.60Z" fill="#fff" stroke="#222" stroke-width="0.8"/>
<text transform="translate(509.40,303.70) scale(0.800,1)" font-family='"Liberation Serif", serif' font-size="12.00" font-weight="bold" text-anchor="start" fill="#111" stroke="#111" stroke-width="0.15">13</text>
<line x1="490.80" y1="313.70" x2="507.50" y2="313.70" stroke="#444" stroke-width="0.90"/>
<text transform="translate(509.40,317.80) scale(0.800,1)" font-family='"Liberation Serif", serif' font-size="12.00" font-weight="bold" text-anchor="start" fill="#111" stroke="#111" stroke-width="0.15">16</text>
<line x1="490.80" y1="327.70" x2="507.50" y2="327.70" stroke="#444" stroke-width="0.90"/>
<path d="M499.15 325.36L501.49 329.57L496.81 329.57Z" fill="#fff" stroke="#222" stroke-width="0.8"/>
<text transform="translate(509.40,331.80) scale(0.800,1)" font-family='"Liberation Serif", serif' font-size="12.00" font-weight="bold" text-anchor="start" fill="#111" stroke="#111" stroke-width="0.15">17</text>
<text transform="translate(-0.70,449.80) scale(0.930,1)" font-family='"Liberation Sans", sans-serif' font-size="25.60" font-weight="bold" text-anchor="start" fill="#000" stroke="#000" stroke-width="0.50">E</text>
<path d="M37.90 476.71 L52.36 534.91 L124.65 517.00 L211.40 503.57" fill="none" stroke="#404040" stroke-width="1.30" stroke-dasharray="4,2.6"/>
<path d="M37.90 481.19 L52.36 512.53 L124.65 499.09 L211.40 512.53" fill="none" stroke="#404040" stroke-width="1.00"/>
<path d="M37.90 494.62 L52.36 499.09" fill="none" stroke="#404040" stroke-width="1.00"/>
<path d="M37.90 579.68 L52.36 579.68 L124.65 602.07" fill="none" stroke="#404040" stroke-width="1.00"/>
<path d="M37.90 473.91L40.70 476.71L37.90 479.51L35.10 476.71Z" fill="#000"/>
<path d="M52.36 532.11L55.16 534.91L52.36 537.71L49.56 534.91Z" fill="#000"/>
<path d="M124.65 514.20L127.45 517.00L124.65 519.80L121.85 517.00Z" fill="#000"/>
<path d="M211.40 500.77L214.20 503.57L211.40 506.37L208.60 503.57Z" fill="#000"/>
<rect x="37.10" y="479.89" width="1.6" height="2.6" fill="#111"/>
<rect x="51.56" y="511.23" width="1.6" height="2.6" fill="#111"/>
<rect x="123.85" y="497.79" width="1.6" height="2.6" fill="#111"/>
<rect x="210.60" y="511.23" width="1.6" height="2.6" fill="#111"/>
<circle cx="37.90" cy="494.62" r="2.40" fill="#fff" stroke="#222" stroke-width="0.8"/>
<circle cx="52.36" cy="499.09" r="2.40" fill="#fff" stroke="#222" stroke-width="0.8"/>
<path d="M35.30 577.08L40.50 582.28M35.30 582.28L40.50 577.08" stroke="#222" stroke-width="0.9"/>
<path d="M49.76 577.08L54.96 582.28M49.76 582.28L54.96 577.08" stroke="#222" stroke-width="0.9"/>
<path d="M122.05 599.47L127.25 604.67M122.05 604.67L127.25 599.47" stroke="#222" stroke-width="0.9"/>
<rect x="37.90" y="458.80" width="173.50" height="156.70" fill="none" stroke="#111" stroke-width="1.40"/>
<line x1="35.50" y1="615.50" x2="37.90" y2="615.50" stroke="#555" stroke-width="0.8"/>
<text transform="translate(30.30,619.90) scale(0.700,1)" font-family='"Liberation Serif", serif' font-size="12.40" font-weight="normal" text-anchor="end" fill="#111" stroke="#111" stroke-width="0.40">7.5</text>
<line x1="35.50" y1="593.11" x2="37.90" y2="593.11" stroke="#555" stroke-width="0.8"/>
<text transform="translate(30.30,597.51) scale(0.700,1)" font-family='"Liberation Serif", serif' font-size="12.40" font-weight="normal" text-anchor="end" fill="#111" stroke="#111" stroke-width="0.40">8</text>
<line x1="35.50" y1="570.73" x2="37.90" y2="570.73" stroke="#555" stroke-width="0.8"/>
<text transform="translate(30.30,575.13) scale(0.700,1)" font-family='"Liberation Serif", serif' font-size="12.40" font-weight="normal" text-anchor="end" fill="#111" stroke="#111" stroke-width="0.40">8.5</text>
<line x1="35.50" y1="548.34" x2="37.90" y2="548.34" stroke="#555" stroke-width="0.8"/>
<text transform="translate(30.30,552.74) scale(0.700,1)" font-family='"Liberation Serif", serif' font-size="12.40" font-weight="normal" text-anchor="end" fill="#111" stroke="#111" stroke-width="0.40">9</text>
<line x1="35.50" y1="525.96" x2="37.90" y2="525.96" stroke="#555" stroke-width="0.8"/>
<text transform="translate(30.30,530.36) scale(0.700,1)" font-family='"Liberation Serif", serif' font-size="12.40" font-weight="normal" text-anchor="end" fill="#111" stroke="#111" stroke-width="0.40">9.5</text>
<line x1="35.50" y1="503.57" x2="37.90" y2="503.57" stroke="#555" stroke-width="0.8"/>
<text transform="translate(30.30,507.97) scale(0.700,1)" font-family='"Liberation Serif", serif' font-size="12.40" font-weight="normal" text-anchor="end" fill="#111" stroke="#111" stroke-width="0.40">10</text>
<line x1="35.50" y1="481.19" x2="37.90" y2="481.19" stroke="#555" stroke-width="0.8"/>
<text transform="translate(30.30,485.59) scale(0.700,1)" font-family='"Liberation Serif", serif' font-size="12.40" font-weight="normal" text-anchor="end" fill="#111" stroke="#111" stroke-width="0.40">10.5</text>
<line x1="35.50" y1="458.80" x2="37.90" y2="458.80" stroke="#555" stroke-width="0.8"/>
<text transform="translate(30.30,463.20) scale(0.700,1)" font-family='"Liberation Serif", serif' font-size="12.40" font-weight="normal" text-anchor="end" fill="#111" stroke="#111" stroke-width="0.40">11</text>
<line x1="37.90" y1="615.50" x2="37.90" y2="617.90" stroke="#555" stroke-width="0.8"/>
<text transform="translate(38.20,635.80) scale(0.700,1)" font-family='"Liberation Serif", serif' font-size="12.40" font-weight="normal" text-anchor="middle" fill="#111" stroke="#111" stroke-width="0.40">0</text>
<line x1="52.36" y1="615.50" x2="52.36" y2="617.90" stroke="#555" stroke-width="0.8"/>
<text transform="translate(52.66,635.80) scale(0.700,1)" font-family='"Liberation Serif", serif' font-size="12.40" font-weight="normal" text-anchor="middle" fill="#111" stroke="#111" stroke-width="0.40">1</text>
<line x1="66.82" y1="615.50" x2="66.82" y2="617.90" stroke="#555" stroke-width="0.8"/>
<text transform="translate(67.12,635.80) scale(0.700,1)" font-family='"Liberation Serif", serif' font-size="12.40" font-weight="normal" text-anchor="middle" fill="#111" stroke="#111" stroke-width="0.40">2</text>
<line x1="81.28" y1="615.50" x2="81.28" y2="617.90" stroke="#555" stroke-width="0.8"/>
<text transform="translate(81.58,635.80) scale(0.700,1)" font-family='"Liberation Serif", serif' font-size="12.40" font-weight="normal" text-anchor="middle" fill="#111" stroke="#111" stroke-width="0.40">3</text>
<line x1="95.73" y1="615.50" x2="95.73" y2="617.90" stroke="#555" stroke-width="0.8"/>
<text transform="translate(96.03,635.80) scale(0.700,1)" font-family='"Liberation Serif", serif' font-size="12.40" font-weight="normal" text-anchor="middle" fill="#111" stroke="#111" stroke-width="0.40">4</text>
<line x1="110.19" y1="615.50" x2="110.19" y2="617.90" stroke="#555" stroke-width="0.8"/>
<text transform="translate(110.49,635.80) scale(0.700,1)" font-family='"Liberation Serif", serif' font-size="12.40" font-weight="normal" text-anchor="middle" fill="#111" stroke="#111" stroke-width="0.40">5</text>
<line x1="124.65" y1="615.50" x2="124.65" y2="617.90" stroke="#555" stroke-width="0.8"/>
<text transform="translate(124.95,635.80) scale(0.700,1)" font-family='"Liberation Serif", serif' font-size="12.40" font-weight="normal" text-anchor="middle" fill="#111" stroke="#111" stroke-width="0.40">6</text>
<line x1="139.11" y1="615.50" x2="139.11" y2="617.90" stroke="#555" stroke-width="0.8"/>
<text transform="translate(139.41,635.80) scale(0.700,1)" font-family='"Liberation Serif", serif' font-size="12.40" font-weight="normal" text-anchor="middle" fill="#111" stroke="#111" stroke-width="0.40">7</text>
<line x1="153.57" y1="615.50" x2="153.57" y2="617.90" stroke="#555" stroke-width="0.8"/>
<text transform="translate(153.87,635.80) scale(0.700,1)" font-family='"Liberation Serif", serif' font-size="12.40" font-weight="normal" text-anchor="middle" fill="#111" stroke="#111" stroke-width="0.40">8</text>
<line x1="168.03" y1="615.50" x2="168.03" y2="617.90" stroke="#555" stroke-width="0.8"/>
<text transform="translate(168.33,635.80) scale(0.700,1)" font-family='"Liberation Serif", serif' font-size="12.40" font-weight="normal" text-anchor="middle" fill="#111" stroke="#111" stroke-width="0.40">9</text>
<line x1="182.48" y1="615.50" x2="182.48" y2="617.90" stroke="#555" stroke-width="0.8"/>
<text transform="translate(182.78,635.80) scale(0.700,1)" font-family='"Liberation Serif", serif' font-size="12.40" font-weight="normal" text-anchor="middle" fill="#111" stroke="#111" stroke-width="0.40">10</text>
<line x1="196.94" y1="615.50" x2="196.94" y2="617.90" stroke="#555" stroke-width="0.8"/>
<text transform="translate(197.24,635.80) scale(0.700,1)" font-family='"Liberation Serif", serif' font-size="12.40" font-weight="normal" text-anchor="middle" fill="#111" stroke="#111" stroke-width="0.40">11</text>
<line x1="211.40" y1="615.50" x2="211.40" y2="617.90" stroke="#555" stroke-width="0.8"/>
<text transform="translate(211.70,635.80) scale(0.700,1)" font-family='"Liberation Serif", serif' font-size="12.40" font-weight="normal" text-anchor="middle" fill="#111" stroke="#111" stroke-width="0.40">12</text>
<text transform="translate(123.70,648.00) scale(0.740,1)" font-family='"Liberation Serif", serif' font-size="9.50" font-weight="normal" text-anchor="middle" fill="#111" stroke="#111" stroke-width="0.40">Months</text>
<text transform="translate(8.30,539.10) rotate(-90)" font-family='"Liberation Serif", serif' font-size="8.60" text-anchor="middle" fill="#111" stroke="#111" stroke-width="0.2" textLength="63.3" lengthAdjust="spacingAndGlyphs">mean TRF length (kb)</text>
<line x1="217.70" y1="496.20" x2="234.00" y2="496.20" stroke="#444" stroke-width="1.30" stroke-dasharray="4,2.6"/>
<path d="M225.85 493.68L228.37 496.20L225.85 498.72L223.33 496.20Z" fill="#000"/>
<text transform="translate(236.50,500.30) scale(0.800,1)" font-family='"Liberation Serif", serif' font-size="12.00" font-weight="bold" text-anchor="start" fill="#111" stroke="#111" stroke-width="0.15">19</text>
<line x1="217.70" y1="512.50" x2="234.00" y2="512.50" stroke="#444" stroke-width="0.90"/>
<rect x="225.05" y="511.20" width="1.6" height="2.6" fill="#111"/>
<text transform="translate(236.50,516.60) scale(0.800,1)" font-family='"Liberation Serif", serif' font-size="12.00" font-weight="bold" text-anchor="start" fill="#111" stroke="#111" stroke-width="0.15">20</text>
<line x1="217.70" y1="528.50" x2="234.00" y2="528.50" stroke="#444" stroke-width="0.90"/>
<circle cx="225.85" cy="528.50" r="2.16" fill="#fff" stroke="#222" stroke-width="0.8"/>
<text transform="translate(236.50,532.60) scale(0.800,1)" font-family='"Liberation Serif", serif' font-size="12.00" font-weight="bold" text-anchor="start" fill="#111" stroke="#111" stroke-width="0.15">21</text>
<line x1="217.70" y1="544.60" x2="234.00" y2="544.60" stroke="#444" stroke-width="0.90"/>
<path d="M223.51 542.26L228.19 546.94M223.51 546.94L228.19 542.26" stroke="#222" stroke-width="0.9"/>
<text transform="translate(236.50,548.70) scale(0.800,1)" font-family='"Liberation Serif", serif' font-size="12.00" font-weight="bold" text-anchor="start" fill="#111" stroke="#111" stroke-width="0.15">22</text>
<text transform="translate(275.60,449.80) scale(0.920,1)" font-family='"Liberation Sans", sans-serif' font-size="25.60" font-weight="bold" text-anchor="start" fill="#000" stroke="#000" stroke-width="0.50">F</text>
<path d="M308.80 508.78 L397.70 508.78 L427.33 547.31 L456.97 520.34 L486.60 551.16" fill="none" stroke="#404040" stroke-width="1.00"/>
<path d="M308.80 547.31 L397.70 589.68 L427.33 608.95 L456.97 597.39 L486.60 581.98" fill="none" stroke="#404040" stroke-width="1.00"/>
<path d="M308.80 466.40 L397.70 493.37 L427.33 485.67 L456.97 485.67 L486.60 501.08" fill="none" stroke="#404040" stroke-width="1.00"/>
<rect x="306.33" y="505.84" width="4.94" height="5.88" fill="#000"/>
<rect x="395.23" y="505.84" width="4.94" height="5.88" fill="#000"/>
<rect x="424.86" y="544.37" width="4.94" height="5.88" fill="#000"/>
<rect x="454.50" y="517.40" width="4.94" height="5.88" fill="#000"/>
<rect x="484.13" y="548.22" width="4.94" height="5.88" fill="#000"/>
<rect x="308.00" y="546.01" width="1.6" height="2.6" fill="#111"/>
<rect x="396.90" y="588.38" width="1.6" height="2.6" fill="#111"/>
<rect x="426.53" y="607.65" width="1.6" height="2.6" fill="#111"/>
<rect x="456.17" y="596.09" width="1.6" height="2.6" fill="#111"/>
<rect x="485.80" y="580.68" width="1.6" height="2.6" fill="#111"/>
<path d="M308.80 463.70L311.50 468.56L306.10 468.56Z" fill="#000"/>
<path d="M397.70 490.67L400.40 495.53L395.00 495.53Z" fill="#000"/>
<path d="M427.33 482.97L430.03 487.83L424.63 487.83Z" fill="#000"/>
<path d="M456.97 482.97L459.67 487.83L454.27 487.83Z" fill="#000"/>
<path d="M486.60 498.38L489.30 503.24L483.90 503.24Z" fill="#000"/>
<rect x="308.80" y="458.70" width="177.80" height="154.10" fill="none" stroke="#111" stroke-width="1.40"/>
<line x1="306.40" y1="612.80" x2="308.80" y2="612.80" stroke="#555" stroke-width="0.8"/>
<text transform="translate(301.50,617.20) scale(0.700,1)" font-family='"Liberation Serif", serif' font-size="12.40" font-weight="normal" text-anchor="end" fill="#111" stroke="#111" stroke-width="0.40">7</text>
<line x1="306.40" y1="593.54" x2="308.80" y2="593.54" stroke="#555" stroke-width="0.8"/>
<text transform="translate(301.50,597.94) scale(0.700,1)" font-family='"Liberation Serif", serif' font-size="12.40" font-weight="normal" text-anchor="end" fill="#111" stroke="#111" stroke-width="0.40">7.5</text>
<line x1="306.40" y1="574.27" x2="308.80" y2="574.27" stroke="#555" stroke-width="0.8"/>
<text transform="translate(301.50,578.67) scale(0.700,1)" font-family='"Liberation Serif", serif' font-size="12.40" font-weight="normal" text-anchor="end" fill="#111" stroke="#111" stroke-width="0.40">8</text>
<line x1="306.40" y1="555.01" x2="308.80" y2="555.01" stroke="#555" stroke-width="0.8"/>
<text transform="translate(301.50,559.41) scale(0.700,1)" font-family='"Liberation Serif", serif' font-size="12.40" font-weight="normal" text-anchor="end" fill="#111" stroke="#111" stroke-width="0.40">8.5</text>
<line x1="306.40" y1="535.75" x2="308.80" y2="535.75" stroke="#555" stroke-width="0.8"/>
<text transform="translate(301.50,540.15) scale(0.700,1)" font-family='"Liberation Serif", serif' font-size="12.40" font-weight="normal" text-anchor="end" fill="#111" stroke="#111" stroke-width="0.40">9</text>
<line x1="306.40" y1="516.49" x2="308.80" y2="516.49" stroke="#555" stroke-width="0.8"/>
<text transform="translate(301.50,520.89) scale(0.700,1)" font-family='"Liberation Serif", serif' font-size="12.40" font-weight="normal" text-anchor="end" fill="#111" stroke="#111" stroke-width="0.40">9.5</text>
<line x1="306.40" y1="497.22" x2="308.80" y2="497.22" stroke="#555" stroke-width="0.8"/>
<text transform="translate(301.50,501.62) scale(0.700,1)" font-family='"Liberation Serif", serif' font-size="12.40" font-weight="normal" text-anchor="end" fill="#111" stroke="#111" stroke-width="0.40">10</text>
<line x1="306.40" y1="477.96" x2="308.80" y2="477.96" stroke="#555" stroke-width="0.8"/>
<text transform="translate(301.50,482.36) scale(0.700,1)" font-family='"Liberation Serif", serif' font-size="12.40" font-weight="normal" text-anchor="end" fill="#111" stroke="#111" stroke-width="0.40">10.5</text>
<line x1="306.40" y1="458.70" x2="308.80" y2="458.70" stroke="#555" stroke-width="0.8"/>
<text transform="translate(301.50,463.10) scale(0.700,1)" font-family='"Liberation Serif", serif' font-size="12.40" font-weight="normal" text-anchor="end" fill="#111" stroke="#111" stroke-width="0.40">11</text>
<line x1="308.80" y1="612.80" x2="308.80" y2="615.20" stroke="#555" stroke-width="0.8"/>
<text transform="translate(309.10,633.80) scale(0.700,1)" font-family='"Liberation Serif", serif' font-size="12.40" font-weight="normal" text-anchor="middle" fill="#111" stroke="#111" stroke-width="0.40">0</text>
<line x1="338.43" y1="612.80" x2="338.43" y2="615.20" stroke="#555" stroke-width="0.8"/>
<text transform="translate(338.73,633.80) scale(0.700,1)" font-family='"Liberation Serif", serif' font-size="12.40" font-weight="normal" text-anchor="middle" fill="#111" stroke="#111" stroke-width="0.40">1</text>
<line x1="368.07" y1="612.80" x2="368.07" y2="615.20" stroke="#555" stroke-width="0.8"/>
<text transform="translate(368.37,633.80) scale(0.700,1)" font-family='"Liberation Serif", serif' font-size="12.40" font-weight="normal" text-anchor="middle" fill="#111" stroke="#111" stroke-width="0.40">2</text>
<line x1="397.70" y1="612.80" x2="397.70" y2="615.20" stroke="#555" stroke-width="0.8"/>
<text transform="translate(398.00,633.80) scale(0.700,1)" font-family='"Liberation Serif", serif' font-size="12.40" font-weight="normal" text-anchor="middle" fill="#111" stroke="#111" stroke-width="0.40">3</text>
<line x1="427.33" y1="612.80" x2="427.33" y2="615.20" stroke="#555" stroke-width="0.8"/>
<text transform="translate(427.63,633.80) scale(0.700,1)" font-family='"Liberation Serif", serif' font-size="12.40" font-weight="normal" text-anchor="middle" fill="#111" stroke="#111" stroke-width="0.40">4</text>
<line x1="456.97" y1="612.80" x2="456.97" y2="615.20" stroke="#555" stroke-width="0.8"/>
<text transform="translate(457.27,633.80) scale(0.700,1)" font-family='"Liberation Serif", serif' font-size="12.40" font-weight="normal" text-anchor="middle" fill="#111" stroke="#111" stroke-width="0.40">5</text>
<line x1="486.60" y1="612.80" x2="486.60" y2="615.20" stroke="#555" stroke-width="0.8"/>
<text transform="translate(486.90,633.80) scale(0.700,1)" font-family='"Liberation Serif", serif' font-size="12.40" font-weight="normal" text-anchor="middle" fill="#111" stroke="#111" stroke-width="0.40">6</text>
<text transform="translate(396.00,642.70) scale(0.740,1)" font-family='"Liberation Serif", serif' font-size="9.50" font-weight="normal" text-anchor="middle" fill="#111" stroke="#111" stroke-width="0.40">Weeks</text>
<text transform="translate(283.00,534.30) rotate(-90)" font-family='"Liberation Serif", serif' font-size="8.60" text-anchor="middle" fill="#111" stroke="#111" stroke-width="0.2" textLength="64.5" lengthAdjust="spacingAndGlyphs">mean TRF length (kb)</text>
<line x1="496.60" y1="513.80" x2="508.60" y2="513.80" stroke="#444" stroke-width="0.90"/>
<rect x="499.76" y="510.42" width="5.68" height="6.76" fill="#000"/>
<text transform="translate(510.90,517.90) scale(0.680,1)" font-family='"Liberation Serif", serif' font-size="12.00" font-weight="bold" text-anchor="start" fill="#111" stroke="#111" stroke-width="0.15">23</text>
<line x1="496.60" y1="529.40" x2="508.60" y2="529.40" stroke="#444" stroke-width="0.90"/>
<rect x="501.80" y="528.10" width="1.6" height="2.6" fill="#111"/>
<text transform="translate(510.90,533.50) scale(0.680,1)" font-family='"Liberation Serif", serif' font-size="12.00" font-weight="bold" text-anchor="start" fill="#111" stroke="#111" stroke-width="0.15">24</text>
<line x1="496.60" y1="544.80" x2="508.60" y2="544.80" stroke="#444" stroke-width="0.90"/>
<path d="M502.60 542.37L505.03 546.74L500.17 546.74Z" fill="#000"/>
<text transform="translate(510.90,548.90) scale(0.680,1)" font-family='"Liberation Serif", serif' font-size="12.00" font-weight="bold" text-anchor="start" fill="#111" stroke="#111" stroke-width="0.15">25</text>
<path d="M518.1 630.8 V638.4 Q518.1 641.0 515.9 641.0 Q514.0 641.0 514.0 638.6" fill="none" stroke="#111" stroke-width="1.6"/>
<line x1="510.4" y1="646.3" x2="520" y2="646.3" stroke="#222" stroke-width="1.0"/>
</svg>
</body></html>
